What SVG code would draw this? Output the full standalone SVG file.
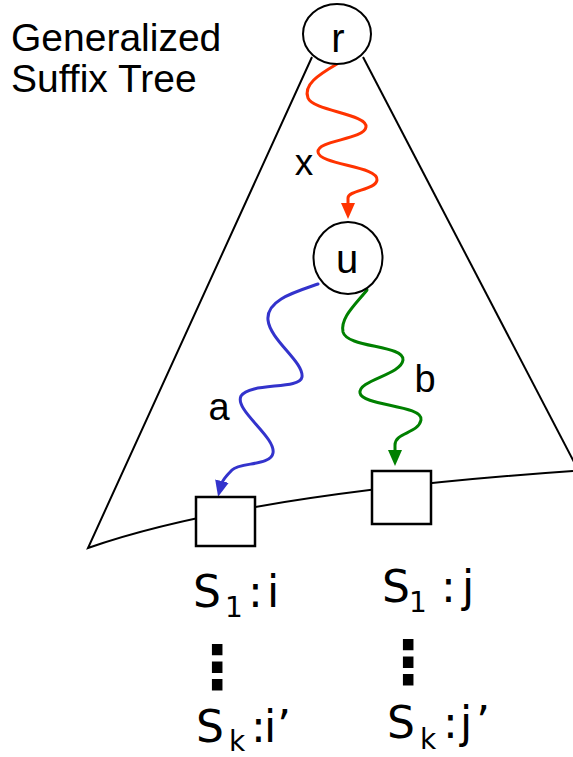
<svg xmlns="http://www.w3.org/2000/svg" width="573" height="757" viewBox="0 0 573 757">
<style>
.ln{fill:none;stroke:#000;stroke-width:2}
.node{fill:#fff;stroke:#000;stroke-width:2}
.box{fill:#fff;stroke:#000;stroke-width:2.5}
.t{font-family:"Liberation Sans",Arial,sans-serif;fill:#000}
.s{font-family:"DejaVu Sans",Verdana,sans-serif;font-size:44px;fill:#000}
.sub{font-size:28px}
.dots{font-family:"DejaVu Sans",Verdana,sans-serif;font-size:60px;font-weight:bold;fill:#000}
.w{fill:none;stroke-width:3;stroke-linecap:round}
</style>
<defs>
<marker id="ar" viewBox="0 0 16 14" refX="4" refY="7" markerWidth="16" markerHeight="14" markerUnits="userSpaceOnUse" orient="auto"><path d="M0,0 L16,7 L0,14 z" fill="#ff3300"/></marker>
<marker id="ab" viewBox="0 0 16 14" refX="4" refY="7" markerWidth="16" markerHeight="14" markerUnits="userSpaceOnUse" orient="auto"><path d="M0,0 L16,7 L0,14 z" fill="#3333cc"/></marker>
<marker id="ag" viewBox="0 0 16 14" refX="4" refY="7" markerWidth="16" markerHeight="14" markerUnits="userSpaceOnUse" orient="auto"><path d="M0,0 L16,7 L0,14 z" fill="#008000"/></marker>
</defs>
<rect width="573" height="757" fill="#fff"/>
<g id="title">
<text class="t" x="11" y="51" font-size="39">Generalized</text>
<text class="t" x="11" y="92" font-size="39">Suffix Tree</text>
</g>
<g id="tree-outline">
<path class="ln" d="M312,57 L88,548 Q242,494 573,471"/>
<path class="ln" d="M363,57 L575,464"/>
</g>
<g id="connectors">
<path class="w" stroke="#ff3300" marker-end="url(#ar)" d="M337,64 C318,75 303,85 308,98 C313,111 368,114 366,127 C364,140 317,140 318,152 C319,165 379,166 377,180 C376,190 348,190 348,198 L348,207"/>
<path class="w" stroke="#3333cc" marker-end="url(#ab)" d="M318,284 C295,292 266,300 268,320 C270,340 304,362 302,377 C300,390 250,382 241,396 C234,410 276,437 273,453 C271,466 240,462 232,470 C226,476 222,481 221,485"/>
<path class="w" stroke="#008000" marker-end="url(#ag)" d="M367,290 C355,305 340,318 343,332 C347,348 405,345 403,360 C401,375 358,380 360,393 C362,406 424,405 421,420 C418,434 395,432 395,445 L395,454"/>
<text class="t" x="304" y="175" font-size="37" text-anchor="middle">x</text>
<text class="t" x="219" y="420" font-size="38" text-anchor="middle">a</text>
<text class="t" x="425" y="392" font-size="38" text-anchor="middle">b</text>
</g>
<g id="node-r">
<ellipse class="node" cx="337" cy="34" rx="34" ry="30"/>
<text class="t" x="338" y="52" font-size="40" text-anchor="middle">r</text>
</g>
<g id="node-u">
<ellipse class="node" cx="348" cy="258" rx="34.5" ry="36"/>
<text class="t" x="347" y="273" font-size="40" text-anchor="middle">u</text>
</g>
<g id="leaf-i">
<rect class="box" x="196" y="497" width="59" height="49"/>
<text class="s"><tspan x="193" y="607">S</tspan><tspan class="sub" x="225" y="617">1</tspan><tspan x="248" y="607">:</tspan><tspan x="267" y="607">i</tspan></text>
<text class="dots" x="217" y="688" text-anchor="middle">⋮</text>
<text class="s"><tspan x="196" y="742">S</tspan><tspan class="sub" x="229" y="751">k</tspan><tspan x="251" y="742">:</tspan><tspan x="264" y="742">i</tspan><tspan x="277" y="742">’</tspan></text>
</g>
<g id="leaf-j">
<rect class="box" x="372" y="471" width="59" height="53"/>
<text class="s"><tspan x="382" y="602">S</tspan><tspan class="sub" x="409" y="612">1</tspan><tspan x="441" y="602">:</tspan><tspan x="462" y="602">j</tspan></text>
<text class="dots" x="408" y="683" text-anchor="middle">⋮</text>
<text class="s"><tspan x="387" y="738">S</tspan><tspan class="sub" x="420" y="749">k</tspan><tspan x="443" y="738">:</tspan><tspan x="460" y="738">j</tspan><tspan x="476" y="738">’</tspan></text>
</g>
</svg>
